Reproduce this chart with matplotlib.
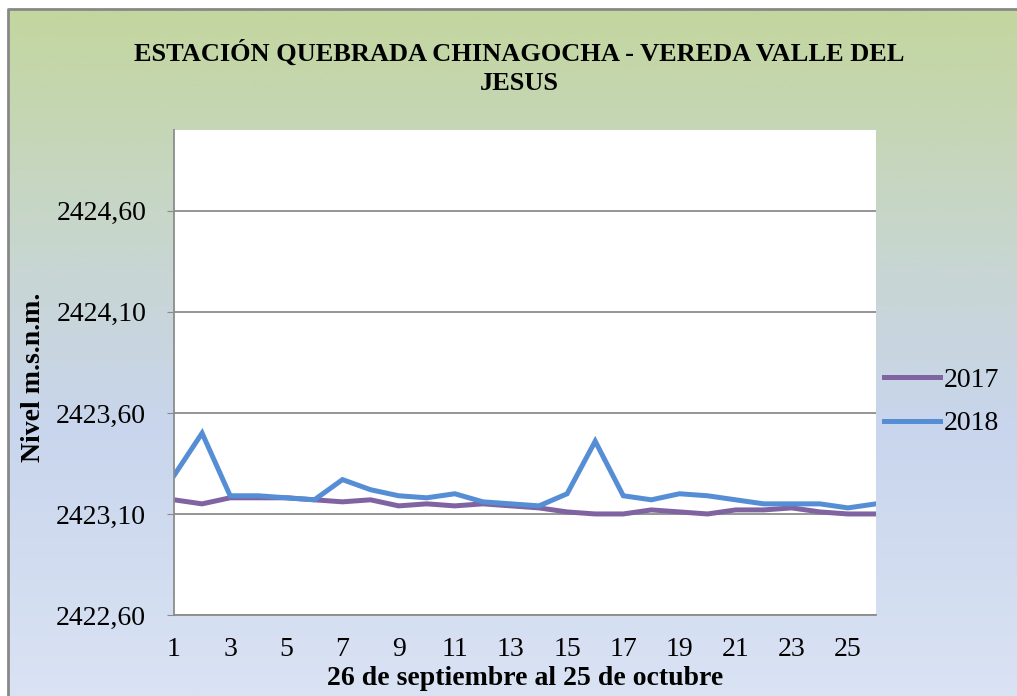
import numpy as np
import matplotlib
matplotlib.use("Agg")
import matplotlib.pyplot as plt
from matplotlib.colors import LinearSegmentedColormap
from matplotlib.ticker import FuncFormatter

DIAS = list(range(1, 27))
NIVEL_2017 = [2423.17, 2423.15, 2423.18, 2423.18, 2423.18, 2423.17, 2423.16, 2423.17,
              2423.14, 2423.15, 2423.14, 2423.15, 2423.14, 2423.13, 2423.11, 2423.10,
              2423.10, 2423.12, 2423.11, 2423.10, 2423.12, 2423.12, 2423.13, 2423.11,
              2423.10, 2423.10]
NIVEL_2018 = [2423.29, 2423.50, 2423.19, 2423.19, 2423.18, 2423.17, 2423.27, 2423.22,
              2423.19, 2423.18, 2423.20, 2423.16, 2423.15, 2423.14, 2423.20, 2423.46,
              2423.19, 2423.17, 2423.20, 2423.19, 2423.17, 2423.15, 2423.15, 2423.15,
              2423.13, 2423.15]
SERIES = [("2017", NIVEL_2017, "#8064A2"), ("2018", NIVEL_2018, "#558ED5")]
Y_TICKS = [2422.60, 2423.10, 2423.60, 2424.10, 2424.60]

TITLE = "ESTACIÓN QUEBRADA CHINAGOCHA - VEREDA VALLE DEL\nJESUS"
FONT = ["Liberation Serif", "DejaVu Serif"]

W, H = 1017, 696
fig = plt.figure(figsize=(W / 100, H / 100), dpi=100)

# fondo degradado (verde arriba, azul claro abajo)
bg = fig.add_axes([0, 0, 1, 1], zorder=-10)
bg.set_axis_off()
cmap = LinearSegmentedColormap.from_list(
    "fondo",
    [(0.0, "#C3D69E"), (0.37, "#C8D6D2"), (0.6, "#C8D5EC"), (1.0, "#DAE3F4")],
)
grad = np.linspace(0, 1, 256).reshape(-1, 1)
bg.imshow(grad, aspect="auto", cmap=cmap, extent=[8 / W, 1, 0, 1 - 9 / H])
bg.plot([8 / W, 8 / W, 1], [0, 1 - 9 / H, 1 - 9 / H], color="#888888", lw=2)
bg.set_xlim(0, 1)
bg.set_ylim(0, 1)

ax = fig.add_axes([174 / W, 1 - 615 / H, (876 - 174) / W, (615 - 130) / H])
ax.set_facecolor("white")
for label, vals, color in SERIES:
    ax.plot(DIAS, vals, color=color, lw=3.6, label=label, solid_joinstyle="miter")

ax.set_xlim(1, 26)
ax.set_ylim(2422.6, 2425.0)
ax.set_xticks(range(1, 26, 2))
ax.set_yticks(Y_TICKS)
ax.yaxis.set_major_formatter(FuncFormatter(lambda v, p: f"{v:.2f}".replace(".", ",")))
ax.grid(axis="y", color="#8C8C8C", lw=1.3)
ax.set_axisbelow(True)
for s in ["top", "right"]:
    ax.spines[s].set_visible(False)
for s in ["left", "bottom"]:
    ax.spines[s].set_color("#8C8C8C")
    ax.spines[s].set_linewidth(1.3)
ax.tick_params(axis="y", length=5, color="#8C8C8C", labelsize=20, pad=15)
ax.tick_params(axis="x", length=0, labelsize=20, pad=16)
for t in ax.get_xticklabels() + ax.get_yticklabels():
    t.set_family(FONT)

ax.set_xlabel("26 de septiembre al 25 de octubre", fontsize=20, fontweight="bold",
              family=FONT, labelpad=3)
ax.set_ylabel("Nivel m.s.n.m.", fontsize=20, fontweight="bold", family=FONT)
ax.yaxis.set_label_coords(-0.182, 0.49)

fig.text(519 / W, 1 - 67 / H, TITLE, ha="center", va="center", fontsize=19,
         fontweight="bold", family=FONT, linespacing=1.35)

leg = ax.legend(loc="center left", bbox_to_anchor=(1 + 8 / 702, (615 - 402) / 485),
                frameon=False, prop={"family": FONT, "size": 20},
                handlelength=2.0, handletextpad=0.15, labelspacing=0.65,
                borderaxespad=0, borderpad=0)

fig.savefig("out.png", dpi=100)
